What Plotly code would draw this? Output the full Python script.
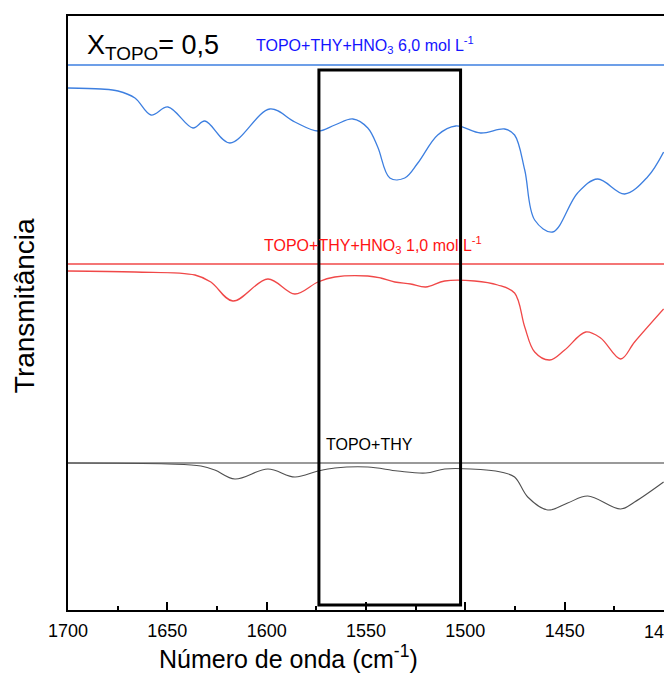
import plotly.graph_objects as go

# Wavenumber (cm-1) and transmittance (arbitrary, offset) values
wn_blue = [1700, 1683.4, 1674.8, 1666.3, 1658.2, 1649.7, 1637.1, 1631.1, 1618.5, 1598.4,
           1585.8, 1574.2, 1565.7, 1556.6, 1549.1, 1544.1, 1538.0, 1530.5, 1523.9, 1513.9,
           1504.8, 1492.3, 1480.2, 1475.2, 1470.1, 1465.1, 1456.0, 1443.5, 1433.4, 1419.8,
           1408.3, 1400.2]
t_blue = [522, 521, 519, 512, 495, 503, 482, 489, 467, 501,
          488, 479, 485, 491, 482, 463, 432, 432, 447, 475,
          484, 477, 481, 475, 440, 390, 378, 417, 431, 416,
          433, 458]

wn_red = [1700, 1666.3, 1636.1, 1628.1, 1617.0, 1599.4, 1585.8, 1574.2, 1565.7, 1549.1,
          1542.6, 1535.5, 1527.5, 1519.9, 1510.4, 1495.3, 1483.7, 1475.2, 1470.1, 1465.1,
          1457.5, 1450.0, 1439.4, 1431.9, 1421.8, 1414.8, 1400.2]
t_red = [339, 338, 335, 328, 309, 331, 316, 328, 333, 334,
         332, 328, 326, 323, 329, 329, 325, 317, 283, 258,
         250, 260, 278, 272, 251, 268, 301]

wn_black = [1700, 1649.7, 1633.1, 1626.1, 1616.0, 1599.4, 1585.8, 1574.2, 1565.7, 1549.1,
            1534.0, 1519.9, 1510.4, 1497.3, 1482.2, 1475.2, 1468.6, 1458.5, 1448.5, 1438.4,
            1421.8, 1414.8, 1400.2]
t_black = [147, 146, 144, 140, 131, 141, 133, 139, 142, 143,
           139, 137, 141, 141, 138, 133, 113, 100, 107, 114,
           101, 108, 128]

baseline_x = [1700, 1390]
baseline_blue = 545
baseline_red = 346
baseline_black = 147

box_x = [1573.7, 1502.4]
box_y = [5, 540]

labels = ["TOPO+THY+HNO<sub>3</sub> 6,0 mol L<sup>-1</sup>",
          "TOPO+THY+HNO<sub>3</sub> 1,0 mol L<sup>-1</sup>",
          "TOPO+THY"]
label_x = [1550.6, 1546.6, 1548]
label_y = [565, 365, 166]

x_ticks = [1700, 1650, 1600, 1550, 1500, 1450, 1400]

FONT = "Liberation Sans, Arial, sans-serif"
BLUE_LINE = "#3d7fe0"
RED_LINE = "#f04848"
TICK_SIZE = 18

fig = go.Figure()

fig.add_trace(go.Scatter(x=baseline_x, y=[baseline_blue] * 2, mode="lines",
                         line=dict(color=BLUE_LINE, width=1.5), hoverinfo="skip"))
fig.add_trace(go.Scatter(x=baseline_x, y=[baseline_red] * 2, mode="lines",
                         line=dict(color=RED_LINE, width=1.3), hoverinfo="skip"))
fig.add_trace(go.Scatter(x=baseline_x, y=[baseline_black] * 2, mode="lines",
                         line=dict(color="#9a9a9a", width=2), hoverinfo="skip"))

fig.add_trace(go.Scatter(x=wn_blue, y=t_blue, mode="lines",
                         line=dict(color=BLUE_LINE, width=1.3, shape="spline", smoothing=1.0)))
fig.add_trace(go.Scatter(x=wn_red, y=t_red, mode="lines",
                         line=dict(color=RED_LINE, width=1.3, shape="spline", smoothing=1.0)))
fig.add_trace(go.Scatter(x=wn_black, y=t_black, mode="lines",
                         line=dict(color="#505050", width=1.1, shape="spline", smoothing=1.0)))

fig.add_shape(type="rect", x0=box_x[0], x1=box_x[1], y0=box_y[0], y1=box_y[1],
              line=dict(color="black", width=3), xref="x", yref="y")

label_colors = ["#1414ff", "#ff1414", "#000000"]
for txt, lx, ly, c in zip(labels, label_x, label_y, label_colors):
    fig.add_annotation(x=lx, y=ly, text=txt, showarrow=False,
                       font=dict(family=FONT, size=16, color=c),
                       xanchor="center", yanchor="middle")

fig.add_annotation(x=1691.4, y=563, text="X<sub>TOPO</sub>= 0,5", showarrow=False,
                   font=dict(family=FONT, size=27, color="black"),
                   xanchor="left", yanchor="middle")

fig.add_annotation(xref="paper", yref="paper", x=-0.074, y=0.513,
                   text="Transmitância", textangle=-90, showarrow=False,
                   font=dict(family=FONT, size=28, color="black"),
                   xanchor="center", yanchor="middle")

fig.add_annotation(xref="paper", yref="paper", x=(288 - 68) / 596, y=(610 - 657) / 594,
                   text="Número de onda (cm<sup>-1</sup>)", showarrow=False,
                   font=dict(family=FONT, size=25, color="black"),
                   xanchor="center", yanchor="middle")

# last tick label sits on the window edge (half cut off in the reference)
fig.add_annotation(xref="x", yref="paper", x=x_ticks[-1], y=(610 - 632) / 594,
                   text=str(x_ticks[-1]), showarrow=False,
                   font=dict(family=FONT, size=TICK_SIZE, color="black"),
                   xanchor="center", yanchor="middle")

fig.update_layout(
    width=664, height=673,
    margin=dict(l=68, r=0, t=16, b=63),
    paper_bgcolor="white", plot_bgcolor="white",
    showlegend=False,
    font=dict(family=FONT, color="black"),
)
fig.update_xaxes(range=[1700, 1400], tickvals=x_ticks, ticks="inside", ticklen=8,
                 tickwidth=1.5, tickcolor="black", showgrid=False, zeroline=False,
                 showline=True, linecolor="black", linewidth=1.5, mirror=True,
                 ticklabelstandoff=4,
                 tickfont=dict(family=FONT, size=TICK_SIZE, color="black"),
                 minor=dict(dtick=25, tick0=1700, ticks="inside", ticklen=4,
                            tickwidth=1.5, tickcolor="black"))
fig.update_yaxes(range=[0, 594], showticklabels=False, ticks="", showgrid=False,
                 zeroline=False, showline=True, linecolor="black", linewidth=1.5)

fig.write_html("out.html")
